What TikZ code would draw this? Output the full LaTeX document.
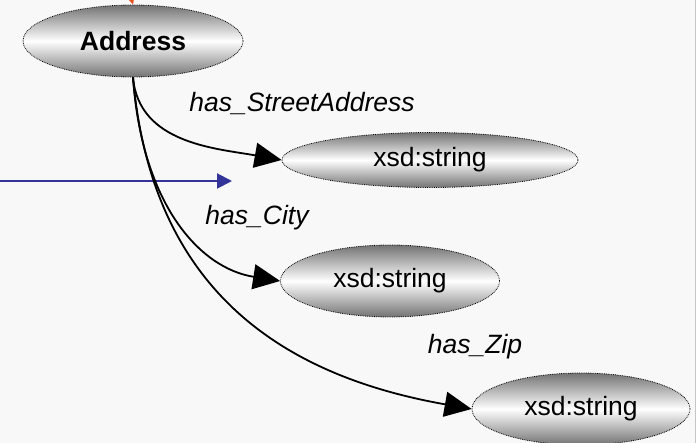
\documentclass[tikz,border=0pt]{standalone}
\usepackage{fontspec}
\setmainfont{Liberation Sans}
\usetikzlibrary{shapes.geometric, arrows.meta}

\definecolor{slidebg}{HTML}{F8F8F8}
\definecolor{linkblue}{HTML}{333399}
\definecolor{linkred}{HTML}{E8501E}

\tikzset{
  cls/.style={ellipse, draw, densely dotted, line width=0.8pt, inner sep=0pt,
    top color=black!55, bottom color=black!55, middle color=white,
    font=\fontsize{26.5}{31}\selectfont},
  prop/.style={font=\fontsize{26.5}{31}\selectfont\itshape},
  rel/.style={line width=1.8pt, -{Triangle[length=27pt,width=25pt]}}
}

\begin{document}
\begin{tikzpicture}[x=1pt,y=1pt]
      \fill[slidebg] (0,0) rectangle (696,-443);
      \useasboundingbox (0,0) rectangle (696,-443);
      \clip (0,0) rectangle (696,-443);
      \draw[gray!45] (695.5,0) -- (695.5,-443);
      \node[cls, minimum width=220pt, minimum height=72pt,
        font=\fontsize{26.5}{31}\selectfont\bfseries] (addr) at (133,-41) {Address};
      \node[cls, minimum width=296pt, minimum height=55pt] (str1) at (430,-160) {xsd:string};
      \node[cls, minimum width=219pt, minimum height=72pt] (str2) at (390,-281) {xsd:string};
      \node[cls, minimum width=218pt, minimum height=72pt] (str3) at (581,-409) {xsd:string};
      \node[prop] (lstreet) at (302,-104) {has\_StreetAddress};
      \node[prop] (lcity) at (257,-218) {has\_City};
      \node[prop] (lzip) at (475,-347) {has\_Zip};
      % incoming links
      \coordinate (above) at (126,20);
      \coordinate (left) at (-5,-181);
      \coordinate (leftend) at (232,-181);
      \draw[linkred, line width=2pt, -{Triangle[length=12pt,width=11pt]}] (above) -- (addr.north);
      \draw[linkblue, line width=2pt, -{Triangle[length=15pt,width=15pt]}] (left) -- (leftend);
      % properties
      \draw[rel] (addr.south) to[out=-85, in=170] (str1.west);
      \draw[rel] (addr.south) to[out=-86, in=171, out distance=128pt, in distance=81pt] (str2.west);
      \draw[rel] (addr.south) to[out=-85, in=170, looseness=1.1] (str3.west);
\end{tikzpicture}
\end{document}
